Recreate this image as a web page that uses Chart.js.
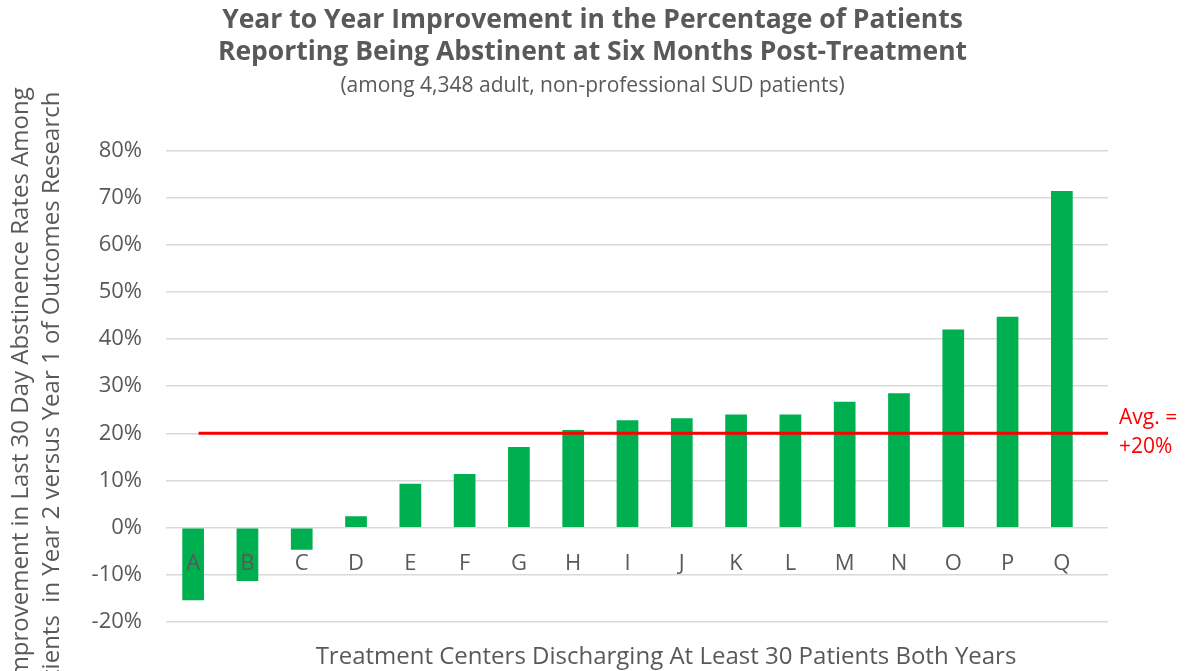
<!DOCTYPE html>
<html>
<head>
<meta charset="utf-8">
<title>Year to Year Improvement in Abstinence</title>
<script src="https://cdn.jsdelivr.net/npm/chart.js@4.4.1/dist/chart.umd.min.js"></script>
<style>
  html, body { margin: 0; padding: 0; background: #ffffff; }
  #wrap { width: 1185px; height: 671px; }
</style>
</head>
<body>
<div id="wrap"><canvas id="chart" width="1185" height="671"></canvas></div>
<script>
// Treatment centers (anonymised) and their year-over-year change in abstinence rate (%)
const centers = ['A', 'B', 'C', 'D', 'E', 'F', 'G', 'H', 'I', 'J', 'K', 'L', 'M', 'N', 'O', 'P', 'Q'];
const improvement = [-15.4, -11.3, -4.7, 2.4, 9.3, 11.4, 17.1, 20.7, 22.8, 23.2, 24.0, 24.0, 26.7, 28.5, 42.0, 44.7, 71.4];
const averageImprovement = 20;

// Value axis range and step
const yMin = -20;
const yMax = 80;
const yStep = 10;

const titleLines = [
  'Year to Year Improvement in the Percentage of Patients',
  'Reporting Being Abstinent at Six Months Post-Treatment'
];
const subtitleText = '(among 4,348 adult, non-professional SUD patients)';
const yTitleLines = [
  'Improvement in Last 30 Day Abstinence Rates Among',
  'Patients  in Year 2 versus Year 1 of Outcomes Research    '
];
const xTitleText = 'Treatment Centers Discharging At Least 30 Patients Both Years';
const avgLabelLines = ['Avg. =', '+' + averageImprovement + '%'];

const GREY = '#595959';
const GREEN = '#00b050';
const RED = '#ff0000';
const FONT = '"Open Sans", "Noto Sans", sans-serif';

// Index axis is linear so the plot area can run a little past the last bar
const xMin = -0.5;
const xMax = 16.85;

const barPoints = improvement.map((v, i) => ({ x: i, y: v }));
const avgPoints = [{ x: 0.1, y: averageImprovement }, { x: xMax, y: averageImprovement }];

const annotations = {
  id: 'annotations',
  afterDraw(chart) {
    const { ctx, chartArea, scales } = chart;
    const yAvg = scales.y.getPixelForValue(averageImprovement);
    ctx.save();
    ctx.textBaseline = 'middle';
    ctx.textAlign = 'left';
    ctx.fillStyle = RED;
    ctx.font = '21px ' + FONT;
    ctx.fillText(avgLabelLines[0], chartArea.right + 11, yAvg - 15);
    ctx.fillText(avgLabelLines[1], chartArea.right + 11, yAvg + 14);

    ctx.textAlign = 'center';
    ctx.fillStyle = GREY;
    ctx.font = '24px ' + FONT;
    ctx.fillText(xTitleText, (chartArea.left + chartArea.right) / 2 + 29, chartArea.bottom + 35);
    ctx.restore();
  }
};

new Chart(document.getElementById('chart'), {
  type: 'bar',
  data: {
    datasets: [
      {
        type: 'line',
        data: avgPoints,
        borderColor: RED,
        borderWidth: 3,
        pointRadius: 0,
        fill: false,
        order: 0
      },
      {
        type: 'bar',
        data: barPoints,
        backgroundColor: GREEN,
        borderWidth: 0,
        categoryPercentage: 1,
        barPercentage: 0.4,
        order: 1
      }
    ]
  },
  options: {
    responsive: false,
    animation: false,
    devicePixelRatio: 1,
    layout: { padding: { top: 0, left: 0, right: 0, bottom: 49 } },
    plugins: {
      legend: { display: false },
      tooltip: { enabled: false },
      title: {
        display: true,
        text: titleLines,
        color: GREY,
        font: { family: FONT, size: 26.5, weight: 'bold', lineHeight: 1.21 },
        padding: { top: 4, bottom: 2 }
      },
      subtitle: {
        display: true,
        text: subtitleText,
        color: GREY,
        font: { family: FONT, size: 21, lineHeight: 1.2 },
        padding: { top: 3, bottom: 52 }
      }
    },
    scales: {
      x: {
        type: 'linear',
        position: { y: 0 },
        min: xMin,
        max: xMax,
        offset: false,
        grid: { display: false, drawTicks: false },
        border: { display: false },
        ticks: {
          z: 1,
          stepSize: 1,
          includeBounds: false,
          autoSkip: false,
          maxRotation: 0,
          padding: 23,
          color: GREY,
          font: { family: FONT, size: 22 },
          callback: (v) => (Number.isInteger(v) && centers[v] !== undefined ? centers[v] : '')
        }
      },
      y: {
        type: 'linear',
        position: 'left',
        min: yMin,
        max: yMax,
        afterFit: (scale) => { scale.width = 166; },
        grid: { color: '#d9d9d9', lineWidth: 1.5, drawTicks: false },
        border: { display: false },
        ticks: {
          stepSize: yStep,
          padding: 24,
          color: GREY,
          font: { family: FONT, size: 22 },
          callback: (v) => v + '%'
        },
        title: {
          display: true,
          text: yTitleLines,
          color: GREY,
          font: { family: FONT, size: 24, lineHeight: 1.29 },
          padding: { top: 6, bottom: 0 }
        }
      },
      yRight: {
        type: 'linear',
        position: 'right',
        display: true,
        afterFit: (scale) => { scale.width = 77; },
        grid: { display: false, drawTicks: false },
        border: { display: false },
        ticks: { display: false }
      }
    }
  },
  plugins: [annotations]
});
</script>
</body>
</html>
